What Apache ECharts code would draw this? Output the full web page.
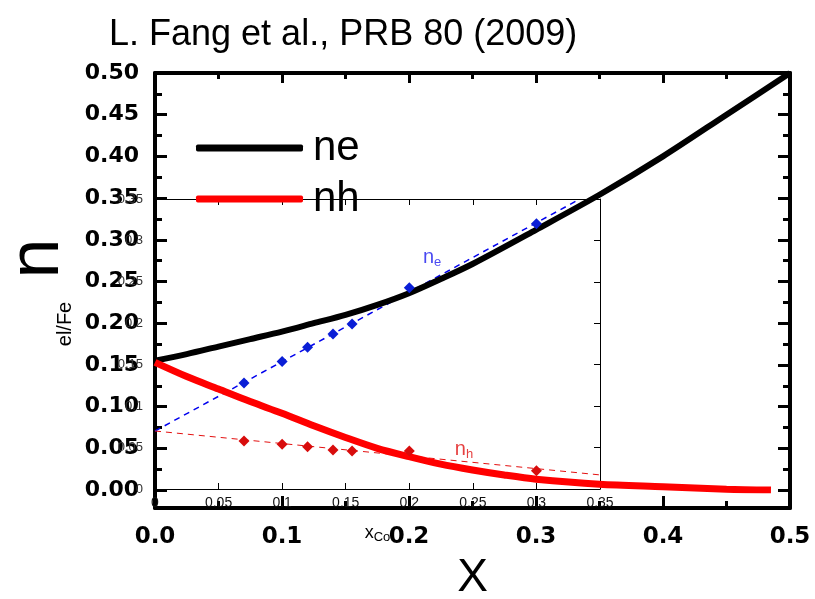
<!DOCTYPE html>
<html>
<head>
<meta charset="utf-8">
<script src="https://cdn.jsdelivr.net/npm/echarts@6/dist/echarts.min.js"></script>
<style>
html,body{margin:0;padding:0;background:#fff;}
#chart{width:815px;height:599px;}
</style>
</head>
<body>
<div id="chart"></div>
<script>
// ---- data ----
const titleText = 'L. Fang et al., PRB 80 (2009)';
const neX = [0, 0.025, 0.05, 0.075, 0.1, 0.125, 0.15, 0.175, 0.2, 0.225, 0.25, 0.3, 0.35, 0.4, 0.45, 0.5];
const neY = [0.155, 0.163, 0.172, 0.181, 0.19, 0.2, 0.21, 0.222, 0.236, 0.253, 0.271, 0.312, 0.354, 0.40, 0.45, 0.50];
const nhX = [0, 0.025, 0.05, 0.075, 0.1, 0.125, 0.15, 0.175, 0.2, 0.225, 0.25, 0.275, 0.3, 0.35, 0.4, 0.45, 0.485];
const nhY = [0.153, 0.136, 0.121, 0.106, 0.092, 0.077, 0.063, 0.050, 0.040, 0.031, 0.024, 0.018, 0.013, 0.007, 0.004, 0.001, 0.0];
const insetX = [0.07, 0.1, 0.12, 0.14, 0.155, 0.2, 0.3];
const insetNe = [0.128, 0.154, 0.171, 0.187, 0.199, 0.243, 0.32];
const insetNh = [0.058, 0.054, 0.051, 0.047, 0.046, 0.046, 0.022];
const neFitX = [0, 0.333];
const neFitY = [0.07, 0.349];
const nhFitX = [0, 0.35];
const nhFitY = [0.07, 0.017];
const outerYMin = -0.0216;

const zip = (a, b) => a.map((v, i) => [v, b[i]]);

const chart = echarts.init(document.getElementById('chart'), null, {renderer: 'canvas'});
const boldNum = {fontFamily: 'DejaVu Sans', fontWeight: 'bold', color: '#000'};
const thick = {onZero: false, lineStyle: {color: '#000', width: 4}};
const thin = {onZero: false, lineStyle: {color: '#000', width: 1}};
const gridBase = {containLabel: false, outerBoundsMode: 'none'};

const option = {
  animation: false,
  backgroundColor: '#fff',
  title: {
    text: titleText, left: 104, top: 12,
    textStyle: {fontSize: 36, fontWeight: 'normal', fontFamily: 'Liberation Sans', color: '#000'}
  },
  legend: {
    data: ['ne', 'nh'], orient: 'vertical', left: 191, top: 122,
    itemWidth: 107, itemHeight: 7, itemGap: 9, icon: 'roundRect',
    textStyle: {fontSize: 42, fontFamily: 'Liberation Sans', color: '#000', lineHeight: 40, padding: [0, 0, 0, 5]}
  },
  grid: [
    Object.assign({left: 155, right: 25, top: 73, bottom: 91}, gridBase),
    Object.assign({left: 155, right: 25, top: 73, bottom: 109}, gridBase),
    Object.assign({left: 155, right: 215, top: 199, bottom: 110}, gridBase)
  ],
  xAxis: [
    { // 0 outer bottom
      gridIndex: 0, type: 'value', min: 0, max: 0.5, interval: 0.1, position: 'bottom',
      axisLine: thick,
      axisTick: {inside: true, length: 12, lineStyle: {color: '#000', width: 3}},
      minorTick: {show: true, splitNumber: 2, length: 7, lineStyle: {color: '#000', width: 3}},
      axisLabel: Object.assign({fontSize: 23, margin: 18, formatter: v => v.toFixed(1)}, boldNum),
      splitLine: {show: false},
      name: 'X', nameLocation: 'middle', nameGap: 47,
      nameTextStyle: {fontSize: 46, fontFamily: 'Liberation Sans', color: '#000', verticalAlign: 'top'}
    },
    { // 1 outer top
      gridIndex: 0, type: 'value', min: 0, max: 0.5, interval: 0.1, position: 'top',
      axisLine: thick,
      axisTick: {inside: true, length: 10, lineStyle: {color: '#000', width: 3}},
      minorTick: {show: true, splitNumber: 2, length: 6, lineStyle: {color: '#000', width: 3}},
      axisLabel: {show: false}, splitLine: {show: false}
    },
    { // 2 hidden for curves
      gridIndex: 1, type: 'value', min: 0, max: 0.5, show: false
    },
    { // 3 inset bottom
      gridIndex: 2, type: 'value', min: 0, max: 0.35, interval: 0.05, position: 'bottom',
      axisLine: thin,
      axisTick: {inside: true, length: 6, lineStyle: {color: '#000', width: 1}},
      axisLabel: {fontSize: 14, margin: 7, color: '#111', fontFamily: 'Liberation Sans'},
      splitLine: {show: false},
      name: '{x|x}{s|Co}', nameLocation: 'middle', nameGap: 33,
      nameTextStyle: {rich: {x: {fontSize: 18, fontFamily: 'Liberation Sans', color: '#000'},
                             s: {fontSize: 13, fontFamily: 'Liberation Sans', color: '#000', padding: [9, 0, 0, 0]}}}
    },
    { // 4 inset top
      gridIndex: 2, type: 'value', min: 0, max: 0.35, interval: 0.05, position: 'top',
      axisLine: thin,
      axisTick: {inside: true, length: 6, lineStyle: {color: '#000', width: 1}},
      axisLabel: {show: false}, splitLine: {show: false}
    }
  ],
  yAxis: [
    { // 0 outer left line only
      gridIndex: 0, type: 'value', min: outerYMin, max: 0.5, position: 'left',
      axisLine: thick, axisTick: {show: false}, axisLabel: {show: false}, splitLine: {show: false}
    },
    { // 1 outer right line only
      gridIndex: 0, type: 'value', min: outerYMin, max: 0.5, position: 'right',
      axisLine: thick, axisTick: {show: false}, axisLabel: {show: false}, splitLine: {show: false}
    },
    { // 2 outer left labels
      gridIndex: 1, type: 'value', min: 0, max: 0.5, interval: 0.05, position: 'left',
      axisLine: {show: false, onZero: false},
      axisTick: {inside: true, length: 12, lineStyle: {color: '#000', width: 3}},
      minorTick: {show: true, splitNumber: 2, length: 7, lineStyle: {color: '#000', width: 3}},
      axisLabel: Object.assign({fontSize: 22, margin: 16, formatter: v => v.toFixed(2)}, boldNum),
      splitLine: {show: false},
      name: 'n', nameLocation: 'middle', nameGap: 74,
      nameTextStyle: {fontSize: 72, fontFamily: 'Liberation Sans', color: '#000', padding: [0, 0, 0, 46]}
    },
    { // 3 outer right ticks
      gridIndex: 1, type: 'value', min: 0, max: 0.5, interval: 0.05, position: 'right',
      axisLine: {show: false, onZero: false},
      axisTick: {inside: true, length: 12, lineStyle: {color: '#000', width: 3}},
      minorTick: {show: true, splitNumber: 2, length: 7, lineStyle: {color: '#000', width: 3}},
      axisLabel: {show: false}, splitLine: {show: false}
    },
    { // 4 inset left
      gridIndex: 2, type: 'value', min: 0, max: 0.35, interval: 0.05, position: 'left',
      axisLine: thin,
      axisTick: {show: false},
      axisLabel: {fontSize: 13, margin: 12, color: '#333', fontFamily: 'Liberation Sans'},
      splitLine: {show: false},
      name: 'el/Fe', nameLocation: 'middle', nameGap: 80,
      nameTextStyle: {fontSize: 20, fontFamily: 'Liberation Sans', color: '#000', padding: [0, 0, 0, 40]}
    },
    { // 5 inset right
      gridIndex: 2, type: 'value', min: 0, max: 0.35, interval: 0.05, position: 'right',
      axisLine: thin,
      axisTick: {inside: true, length: 6, lineStyle: {color: '#000', width: 1}},
      axisLabel: {show: false}, splitLine: {show: false}
    }
  ],
  series: [
    {
      name: 'neFit', type: 'line', xAxisIndex: 3, yAxisIndex: 4, data: zip(neFitX, neFitY),
      symbol: 'none', lineStyle: {color: '#0000ee', width: 1.5, type: [6, 5]}, z: 3
    },
    {
      name: 'nhFit', type: 'line', xAxisIndex: 3, yAxisIndex: 4, data: zip(nhFitX, nhFitY),
      symbol: 'none', lineStyle: {color: '#e41010', width: 1, type: [6, 5]}, z: 3
    },
    {
      name: 'ne', type: 'line', xAxisIndex: 2, yAxisIndex: 2, data: zip(neX, neY),
      smooth: 0.3, symbol: 'none', color: '#000', lineStyle: {color: '#000', width: 6}, z: 4
    },
    {
      name: 'nh', type: 'line', xAxisIndex: 2, yAxisIndex: 2, data: zip(nhX, nhY),
      smooth: 0.3, symbol: 'none', color: '#ff0000', lineStyle: {color: '#ff0000', width: 7}, z: 4
    },
    {
      name: 'neData', type: 'scatter', xAxisIndex: 3, yAxisIndex: 4, data: zip(insetX, insetNe),
      symbol: 'diamond', symbolSize: [11, 11], itemStyle: {color: '#0a1ed6', opacity: 1}, z: 5
    },
    {
      name: 'nhData', type: 'scatter', xAxisIndex: 3, yAxisIndex: 4, data: zip(insetX, insetNh),
      symbol: 'diamond', symbolSize: [11, 11], itemStyle: {color: '#d80c0c', opacity: 1}, z: 5
    },
    {
      name: 'labels', type: 'scatter', xAxisIndex: 3, yAxisIndex: 4, symbolSize: 0, silent: true, z: 6,
      data: [
        {value: [0.218, 0.279], label: {show: true, position: 'inside', formatter: '{n|n}{s|e}',
          rich: {n: {fontSize: 20, color: '#1a1aee', fontFamily: 'Liberation Sans'},
                 s: {fontSize: 13, color: '#1a1aee', fontFamily: 'Liberation Sans', padding: [10, 0, 0, 0]}}}},
        {value: [0.243, 0.048], label: {show: true, position: 'inside', formatter: '{n|n}{s|h}',
          rich: {n: {fontSize: 20, color: '#e01010', fontFamily: 'Liberation Sans'},
                 s: {fontSize: 13, color: '#e01010', fontFamily: 'Liberation Sans', padding: [10, 0, 0, 0]}}}}
      ]
    }
  ]
};
chart.setOption(option);
</script>
</body>
</html>
